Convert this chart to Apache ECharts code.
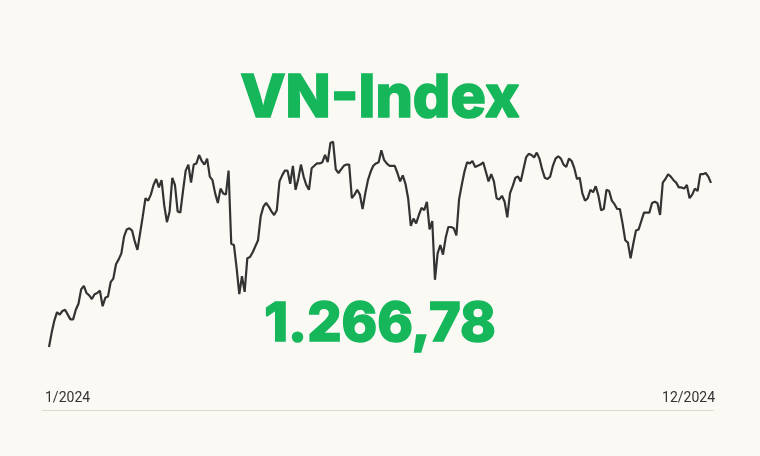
<!DOCTYPE html>
<html>
<head>
<meta charset="utf-8">
<script src="https://cdn.jsdelivr.net/npm/echarts@6/dist/echarts.min.js"></script>
<style>
html,body{margin:0;padding:0;background:#FBF9F4;}
#chart{width:760px;height:456px;}
</style>
</head>
<body>
<div id="chart"></div>
<script>
const titleText = 'VN-Index';
const lastValueText = '1.266,78';
const tickLabels = ['1/2024', '12/2024'];

// VN-Index daily closes (2024)
const valuesPart1 = [1130, 1142, 1152, 1159, 1157, 1160, 1161, 1157, 1153, 1153,
  1161, 1166, 1178, 1181, 1175, 1173, 1170, 1174, 1175, 1177,
  1164, 1171, 1172, 1184, 1187, 1199, 1203, 1208, 1222, 1228,
  1229, 1227, 1218, 1211, 1225, 1239, 1254, 1252, 1257, 1265, 1270];
const valuesPart2 = [1263, 1269, 1248, 1234, 1243, 1271, 1265, 1243, 1242, 1260,
  1277, 1282, 1267, 1282, 1283, 1290, 1285, 1282, 1287, 1272,
  1269, 1258, 1250, 1262, 1258, 1257, 1277, 1216, 1215, 1196,
  1174, 1189, 1176, 1204, 1205, 1209, 1214, 1219, 1239, 1247,
  1250, 1247, 1243, 1240, 1244, 1268, 1273, 1277, 1277, 1266];
const valuesPart3 = [1281, 1261, 1270, 1282, 1272, 1265, 1261, 1279, 1281, 1283,
  1283, 1284, 1290, 1284, 1300, 1301, 1278, 1275, 1278, 1281,
  1282, 1282, 1254, 1257, 1261, 1257, 1245, 1258, 1269, 1276,
  1281, 1283, 1284, 1294, 1286, 1283, 1281, 1281, 1281, 1275,
  1268, 1273, 1266, 1254, 1231, 1237, 1233, 1240, 1246, 1244];
const valuesPart4 = [1251, 1228, 1235, 1186, 1208, 1215, 1207, 1221, 1230, 1230,
  1229, 1223, 1253, 1265, 1276, 1284, 1283, 1285, 1280, 1281,
  1282, 1284, 1276, 1268, 1274, 1268, 1254, 1253, 1256, 1251,
  1238, 1258, 1264, 1271, 1272, 1268, 1278, 1288, 1291, 1290,
  1288, 1292, 1287, 1278, 1271, 1270, 1272, 1281, 1287, 1289];
const valuesPart5 = [1287, 1282, 1280, 1287, 1285, 1279, 1270, 1271, 1258, 1252,
  1254, 1261, 1259, 1264, 1256, 1244, 1245, 1261, 1260, 1252,
  1249, 1245, 1245, 1233, 1219, 1217, 1204, 1216, 1227, 1228,
  1235, 1242, 1242, 1242, 1250, 1251, 1250, 1240, 1267, 1270,
  1274, 1272, 1269, 1267, 1263, 1263, 1262, 1265, 1254, 1257,
  1262, 1260, 1274, 1274, 1275, 1272, 1266.78];

const values = [].concat(valuesPart1, valuesPart2, valuesPart3, valuesPart4, valuesPart5);
const categories = values.map((_, i) => String(i + 1));

const green = '#15B75A';
const chart = echarts.init(document.getElementById('chart'), null, {renderer: 'canvas'});
chart.setOption({
  backgroundColor: '#FBF9F4',
  animation: false,
  grid: {left: 49, right: 49, top: 119, height: 264},
  xAxis: {type: 'category', data: categories, boundaryGap: false, show: false},
  yAxis: {type: 'value', min: 1100, max: 1320, show: false, splitLine: {show: false}},
  series: [{
    type: 'line',
    data: values,
    symbol: 'none',
    smooth: false,
    lineStyle: {color: '#333333', width: 2.2},
    z: 3
  }],
  graphic: [
    {type: 'text', x: 380, y: 99, style: {text: titleText, fill: green, stroke: green, lineWidth: 1.5, textAlign: 'center', textVerticalAlign: 'middle', font: '800 59px Inter'}},
    {type: 'text', x: 380, y: 325, style: {text: lastValueText, fill: green, stroke: green, lineWidth: 1.5, textAlign: 'center', textVerticalAlign: 'middle', font: '800 54px Inter'}},
    {type: 'text', x: 45, y: 398, style: {text: tickLabels[0], fill: '#333333', textAlign: 'left', textVerticalAlign: 'middle', font: '14px Roboto'}},
    {type: 'text', x: 715, y: 398, style: {text: tickLabels[1], fill: '#333333', textAlign: 'right', textVerticalAlign: 'middle', font: '14px Roboto'}},
    {type: 'line', shape: {x1: 42, y1: 410.5, x2: 714, y2: 410.5}, style: {stroke: '#DEDACB', lineWidth: 1}}
  ]
});
</script>
</body>
</html>
